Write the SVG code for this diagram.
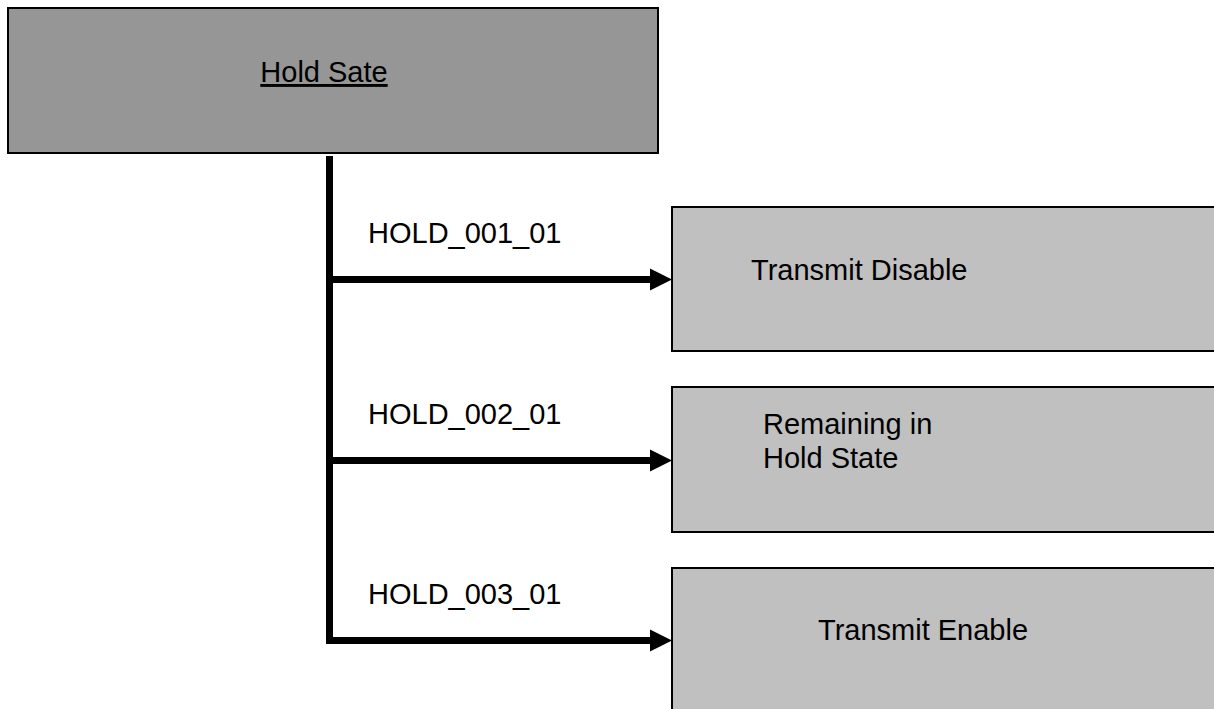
<svg xmlns="http://www.w3.org/2000/svg" width="1214" height="709" viewBox="0 0 1214 709">
<style>
  .box { stroke: #000; stroke-width: 2; }
  .top { fill: #969696; }
  .sub { fill: #c0c0c0; }
  .t { font-family: "Liberation Sans", Arial, sans-serif; font-size: 29px; fill: #000; }
  .conn { stroke: #000; stroke-width: 7; fill: none; }
  .head { fill: #000; }
</style>
<defs>
  <polygon id="ah" class="head" points="0,-11 22,0 0,11"/>
</defs>
<rect width="1214" height="709" fill="#fff"/>
<g id="hold-sate">
  <rect class="box top" x="8" y="8" width="650" height="145"/>
  <text class="t" x="324" y="82" text-anchor="middle" text-decoration="underline">Hold Sate</text>
</g>
<g id="connectors">
  <path class="conn" d="M329.5 156 V643.5"/>
  <path class="conn" d="M326 279.5 H652"/>
  <use href="#ah" x="650" y="279.5"/>
  <path class="conn" d="M326 460.5 H652"/>
  <use href="#ah" x="650" y="460.5"/>
  <path class="conn" d="M326 640.5 H652"/>
  <use href="#ah" x="650" y="640.5"/>
  <text class="t" x="368" y="243">HOLD_001_01</text>
  <text class="t" x="368" y="424">HOLD_002_01</text>
  <text class="t" x="368" y="604">HOLD_003_01</text>
</g>
<g id="transmit-disable">
  <rect class="box sub" x="672" y="207" width="560" height="144"/>
  <text class="t" x="751" y="280">Transmit Disable</text>
</g>
<g id="remaining-in-hold-state">
  <rect class="box sub" x="672" y="387" width="560" height="145"/>
  <text class="t" x="763" y="434">Remaining in</text>
  <text class="t" x="763" y="468">Hold State</text>
</g>
<g id="transmit-enable">
  <rect class="box sub" x="672" y="568" width="560" height="160"/>
  <text class="t" x="818" y="640">Transmit Enable</text>
</g>
</svg>
